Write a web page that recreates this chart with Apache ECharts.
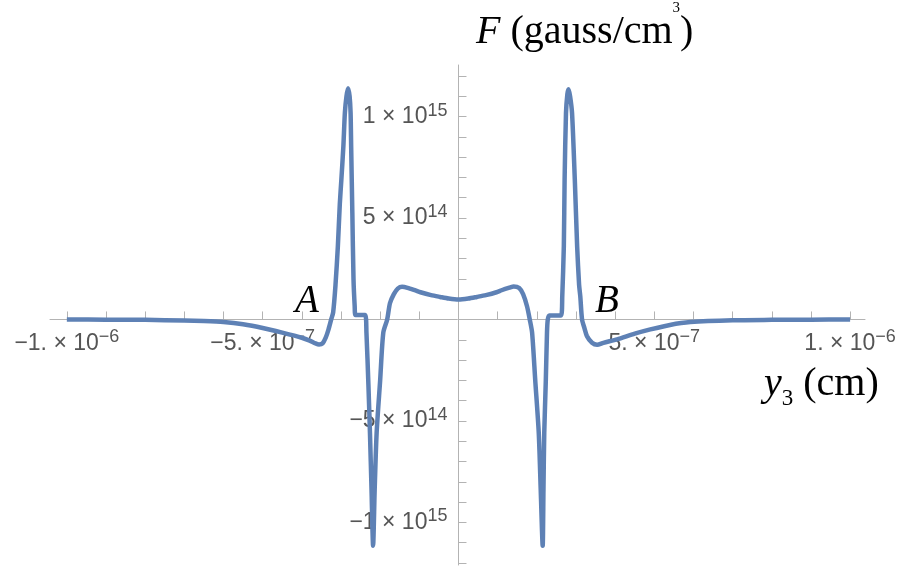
<!DOCTYPE html>
<html>
<head>
<meta charset="utf-8">
<title>F vs y3</title>
<script src="https://cdn.jsdelivr.net/npm/echarts@6.0.0/dist/echarts.min.js"></script>
<style>
  html, body { margin: 0; padding: 0; background: #fff; }
  #main { width: 897px; height: 567px; }
</style>
</head>
<body>
<div id="main"></div>
<script>
// y3 positions, in units of 1e-7 cm
var yPos = [
  -10, -9, -8, -7, -6.5, -6, -5.5, -5, -4.5, -4.0, -3.8, -3.65, -3.56, -3.47, -3.39, -3.32,
  -3.25, -3.20, -3.14, -3.08, -3.03, -2.99, -2.94, -2.90, -2.86, -2.82, -2.78, -2.755, -2.74,
  -2.71, -2.68, -2.65, -2.63, -2.5, -2.38,
  -2.35, -2.30, -2.26, -2.22, -2.18, -2.14, -2.09, -2.0, -1.92, -1.82, -1.75, -1.65,
  -1.55, -1.44, -1.3, -1.1, -0.97, -0.7, -0.47, -0.25, 0,
  0.25, 0.47, 0.7, 0.97, 1.1, 1.3, 1.41, 1.55, 1.65, 1.75, 1.82,
  1.88, 1.96, 2.05, 2.10, 2.15, 2.17, 2.19, 2.23, 2.26, 2.28, 2.32, 2.5, 2.62,
  2.65, 2.69, 2.71, 2.745, 2.78, 2.81, 2.85, 2.90, 2.97, 3.03, 3.08, 3.11, 3.155,
  3.22, 3.28, 3.41, 3.54, 3.7, 4.05, 4.5, 4.9, 5.4, 5.92, 7.0, 8, 9, 10
];
// F values, in units of 1e15 gauss/cm^3
var fVal = [
  0, -0.001, -0.002, -0.005, -0.008, -0.013, -0.024, -0.042, -0.065, -0.09, -0.104, -0.118, -0.123, -0.118, -0.09, -0.05,
  0, 0.035, 0.17, 0.36, 0.57, 0.69, 0.85, 1.02, 1.10, 1.14, 1.10, 1.02, 0.85,
  0.525, 0.197, 0.065, 0.022, 0.022, 0.022,
  -0.065, -0.32, -0.56, -0.84, -1.115, -0.84, -0.56, -0.3, -0.065, 0, 0.08, 0.125,
  0.152, 0.161, 0.156, 0.143, 0.134, 0.12, 0.111, 0.103, 0.098,
  0.103, 0.111, 0.12, 0.134, 0.144, 0.157, 0.163, 0.155, 0.125, 0.065, 0,
  -0.065, -0.3, -0.56, -0.84, -1.115, -0.84, -0.56, -0.3, -0.065, 0, 0.02, 0.02, 0.02,
  0.115, 0.36, 0.69, 1.017, 1.11, 1.135, 1.10, 1.017, 0.69, 0.36, 0.17, 0.115, 0,
  -0.045, -0.082, -0.115, -0.125, -0.115, -0.098, -0.07, -0.049, -0.027, -0.013, -0.004, -0.002, -0.001, 0
];

var xTickVals = [-10, -9, -8, -7, -6, -5, -4, -3, -2, -1, 1, 2, 3, 4, 5, 6, 7, 8, 9, 10]; // 1e-7 cm
var xLabelVals = [-10, -5, 5, 10];
var xLabelMant = ['\u22121.', '\u22125.', '5.', '1.'];
var xLabelExp = ['\u22126', '\u22127', '\u22127', '\u22126'];

var yTickVals = [-12, -11, -10, -9, -8, -7, -6, -5, -4, -3, -2, -1, 1, 2, 3, 4, 5, 6, 7, 8, 9, 10, 11, 12]; // 1e14
var yLabelVals = [-10, -5, 5, 10];
var yLabelMant = ['\u22121', '\u22125', '5', '1'];
var yLabelExp = ['15', '14', '14', '15'];

var XS = 1e-7, FS = 1e15;
var GRID = { left: 50, right: 32, top: 65, bottom: 2 };

var chart = echarts.init(document.getElementById('main'));

var data = yPos.map(function(v, i) { return [v * XS, fVal[i] * FS]; });

function pick(vals, v, unit) {
  for (var i = 0; i < vals.length; i++) {
    if (Math.abs(vals[i] * unit - v) < unit * 0.01) return i;
  }
  return -1;
}

var sans = 'Liberation Sans, Arial, sans-serif';
var serif = 'Liberation Serif, Times New Roman, serif';

var labelRich = {
  b: { fontSize: 23, lineHeight: 30, fontFamily: sans, color: '#555' },
  s: { fontSize: 18, lineHeight: 16, verticalAlign: 'top', fontFamily: sans, color: '#555' }
};

var axisGray = '#b3b3b3';

var option = {
  animation: false,
  grid: { left: GRID.left, right: GRID.right, top: GRID.top, bottom: GRID.bottom, containLabel: false, outerBoundsMode: 'none' },
  xAxis: {
    type: 'value',
    min: -1.043e-6,
    max: 1.038e-6,
    axisLine: { onZero: false, lineStyle: { color: axisGray, width: 1 } },
    axisTick: {
      show: true, inside: true, length: 8,
      customValues: xTickVals.map(function(v) { return v * XS; }),
      lineStyle: { color: axisGray }
    },
    axisLabel: {
      show: true, margin: 9,
      customValues: xLabelVals.map(function(v) { return v * XS; }),
      formatter: function(v) {
        var i = pick(xLabelVals, v, XS);
        if (i < 0) return '';
        return '{b|' + xLabelMant[i] + ' \u00d7 10}{s|' + xLabelExp[i] + '}';
      },
      rich: labelRich
    },
    splitLine: { show: false }
  },
  yAxis: {
    type: 'value',
    min: -1.21e15,
    max: 1.254e15,
    axisLine: { onZero: false, lineStyle: { color: axisGray, width: 1 } },
    axisTick: {
      show: true, inside: true, length: 8,
      customValues: yTickVals.map(function(v) { return v * 1e14; }),
      lineStyle: { color: axisGray }
    },
    axisLabel: {
      show: true, margin: 11,
      customValues: yLabelVals.map(function(v) { return v * 1e14; }),
      formatter: function(v) {
        var i = pick(yLabelVals, v, 1e14);
        if (i < 0) return '';
        return '{b|' + yLabelMant[i] + ' \u00d7 10}{s|' + yLabelExp[i] + '}';
      },
      rich: labelRich
    },
    splitLine: { show: false }
  },
  series: [{
    type: 'line',
    data: data,
    showSymbol: false,
    smooth: 0.25,
    lineStyle: { color: '#5e81b5', width: 4.5 },
    z: 3
  }],
  graphic: [
    {
      type: 'text', left: 476, top: 1, z: 10,
      style: {
        text: '{f|F}{n| (gauss/cm}{s|3}{n|)}',
        rich: {
          f: { fontSize: 40, lineHeight: 62, fontStyle: 'italic', fontFamily: serif, fill: '#000' },
          n: { fontSize: 40, lineHeight: 62, fontFamily: serif, fill: '#000' },
          s: { fontSize: 15, lineHeight: 22, verticalAlign: 'top', fontFamily: serif, fill: '#000' }
        }
      }
    },
    {
      type: 'text', left: 764, top: 364, z: 10,
      style: {
        text: '{y|y}{u|3}{n| (cm)}',
        rich: {
          y: { fontSize: 40, lineHeight: 52, fontStyle: 'italic', fontFamily: serif, fill: '#000' },
          n: { fontSize: 40, lineHeight: 52, fontFamily: serif, fill: '#000' },
          u: { fontSize: 23, lineHeight: 23, verticalAlign: 'bottom', fontFamily: serif, fill: '#000' }
        }
      }
    },
    {
      type: 'text', x: 307, y: 302, z: 10,
      style: { text: 'A', font: 'italic 39px "Liberation Serif", "Times New Roman", serif', fill: '#000', align: 'center', verticalAlign: 'middle' }
    },
    {
      type: 'text', x: 607, y: 302, z: 10,
      style: { text: 'B', font: 'italic 39px "Liberation Serif", "Times New Roman", serif', fill: '#000', align: 'center', verticalAlign: 'middle' }
    }
  ]
};

chart.setOption(option);

// move both axes (line, ticks, labels) so they cross at the origin
var origin = chart.convertToPixel({ gridIndex: 0 }, [0, 0]);
chart.setOption({
  xAxis: { offset: -(567 - GRID.bottom - origin[1]) },
  yAxis: { offset: -(origin[0] - GRID.left) }
});
</script>
</body>
</html>
